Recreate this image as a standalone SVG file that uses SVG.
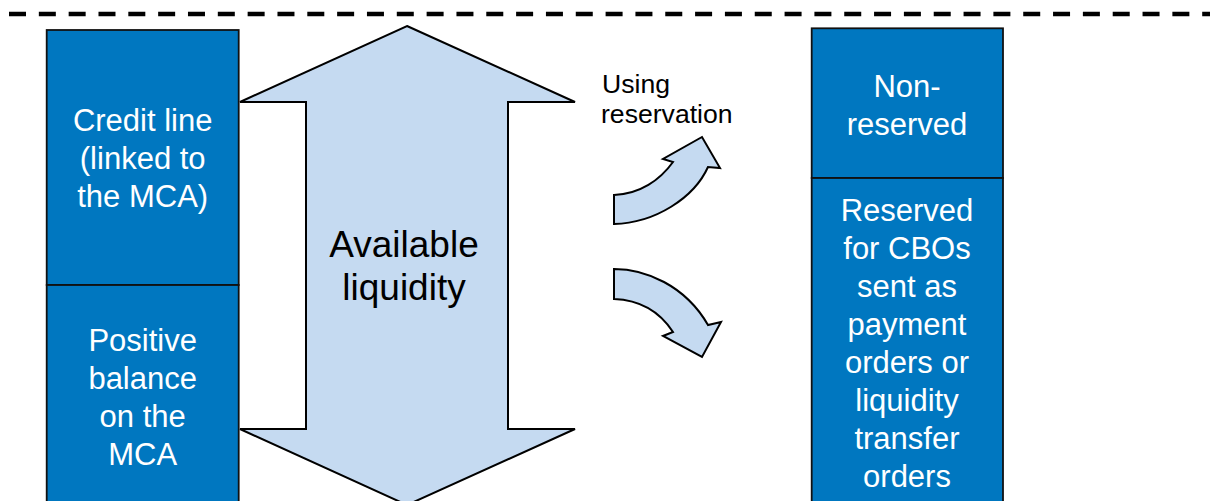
<svg xmlns="http://www.w3.org/2000/svg" width="1210" height="501" viewBox="0 0 1210 501">
<style>
.box{fill:#0077C0;stroke:#111;stroke-width:1.8}
.arr{fill:#C5DAF1;stroke:#000;stroke-width:2;stroke-linejoin:miter}
.wt{font-family:"Liberation Sans",Arial,sans-serif;font-size:31px;fill:#fff;text-anchor:middle}
.bt{font-family:"Liberation Sans",Arial,sans-serif;fill:#000}
</style>
<rect width="1210" height="501" fill="#fff"/>
<line x1="9" y1="14" x2="1210" y2="14" stroke="#000" stroke-width="4.5" stroke-dasharray="17 12.83"/>
<g id="credit-line">
<rect class="box" x="46.7" y="30" width="192" height="255"/>
<text class="wt"><tspan x="142.7" y="131">Credit line</tspan><tspan x="142.7" y="169">(linked to</tspan><tspan x="142.7" y="207">the MCA)</tspan></text>
</g>
<g id="positive-balance">
<rect class="box" x="46.7" y="285" width="192" height="230"/>
<text class="wt"><tspan x="142.7" y="351">Positive</tspan><tspan x="142.7" y="389">balance</tspan><tspan x="142.7" y="427">on the</tspan><tspan x="142.7" y="465">MCA</tspan></text>
</g>
<g id="available-liquidity">
<polygon class="arr" points="407,26 575,102 508,102 508,429 575,429 407,505 240,429 306,429 306,102 240,102"/>
<text class="bt" font-size="37" text-anchor="middle"><tspan x="404" y="257">Available</tspan><tspan x="404" y="300">liquidity</tspan></text>
</g>
<g id="non-reserved">
<rect class="box" x="811.7" y="28.3" width="191.3" height="149.7"/>
<text class="wt"><tspan x="907" y="97">Non-</tspan><tspan x="907" y="135">reserved</tspan></text>
</g>
<g id="reserved">
<rect class="box" x="811.7" y="178" width="191.3" height="340"/>
<text class="wt"><tspan x="907" y="221">Reserved</tspan><tspan x="907" y="259">for CBOs</tspan><tspan x="907" y="297">sent as</tspan><tspan x="907" y="335">payment</tspan><tspan x="907" y="373">orders or</tspan><tspan x="907" y="411">liquidity</tspan><tspan x="907" y="449">transfer</tspan><tspan x="907" y="487">orders</tspan></text>
</g>
<g id="connectors">
<path id="arrow-up" class="arr" d="M614,195 C640,194 660,180 673,162 L663,159 L702,137 L720,168 L708,167 C694,198 655,223 614,224 Z"/>
<path id="arrow-down" class="arr" d="M614,269 C645,269 685,285 708,325 L721,322 L702,357 L663,336 L673,332 C660,312 640,300 614,299 Z"/>
<text class="bt" font-size="26.6"><tspan x="602" y="93">Using</tspan><tspan x="601" y="123">reservation</tspan></text>
</g>
</svg>
